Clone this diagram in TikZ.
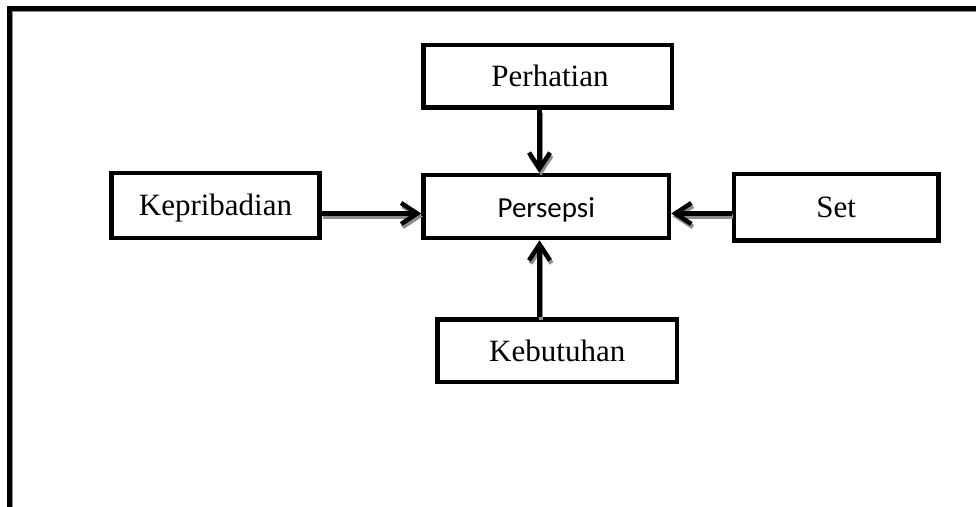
\documentclass[tikz,border=0pt]{standalone}
\usepackage{fontspec}
\setmainfont{Liberation Serif}
\newfontfamily\calib{Carlito}
\usetikzlibrary{arrows.meta}
\begin{document}
\begin{tikzpicture}[x=1pt,y=-1pt,
  box/.style={draw, line width=4.5pt, inner sep=0pt, text height=20.5pt, text depth=0pt, font=\fontsize{31}{36}\selectfont},
  arr/.style={line width=4.5pt, -{Straight Barb[length=16pt,width=21pt]}},
  shadowarr/.style={arr, draw=black!45, transform canvas={shift={(1.5pt,-3pt)}}},
  framestyle/.style={line width=5pt, line cap=butt}]
\useasboundingbox (0,0) rectangle (976,506);
% outer frame (only top and left visible)
\draw[black!45, line width=1.2pt] (12.3,11.5) -- (980,11.5);
\draw[black!45, line width=1.2pt] (12.4,11.5) -- (12.4,510);
\draw[framestyle] (6.8,8) -- (980,8);
\draw[framestyle] (9.3,5.5) -- (9.3,510);
% boxes
\node[box, minimum width=208pt, minimum height=65pt] (kep) at (215.5,205.5) {Kepribadian};
\node[box, minimum width=245.5pt, minimum height=63pt, text height=21pt, font=\calib\fontsize{29}{34}\selectfont] (per) at (546.25,206.5) {Persepsi};
\node[box, minimum width=248.5pt, minimum height=62.5pt] (hat) at (547.75,76.25) {\hspace*{4.5pt}Perhatian};
\node[box, minimum width=239.5pt, minimum height=62.5pt] (keb) at (557.25,350.75) {Kebutuhan};
\node[box, minimum width=204.5pt, minimum height=66.5pt] (set) at (836.25,207.25) {Set};
\coordinate (ax) at (539.5,0);
% shadows of arrows
\draw[shadowarr] ([yshift=-8pt]kep.east) -- ([yshift=-7pt]per.west);
\draw[shadowarr] ([yshift=-6.25pt]set.west) -- ([yshift=-7pt]per.east);
\draw[shadowarr] (hat.south -| ax) -- (per.north -| ax);
\draw[shadowarr] (keb.north -| ax) -- (per.south -| ax);
% arrows
\draw[arr] ([yshift=-8pt]kep.east) -- ([yshift=-7pt]per.west);
\draw[arr] ([yshift=-6.25pt]set.west) -- ([yshift=-7pt]per.east);
\draw[arr] (hat.south -| ax) -- (per.north -| ax);
\draw[arr] (keb.north -| ax) -- (per.south -| ax);
\end{tikzpicture}
\end{document}
